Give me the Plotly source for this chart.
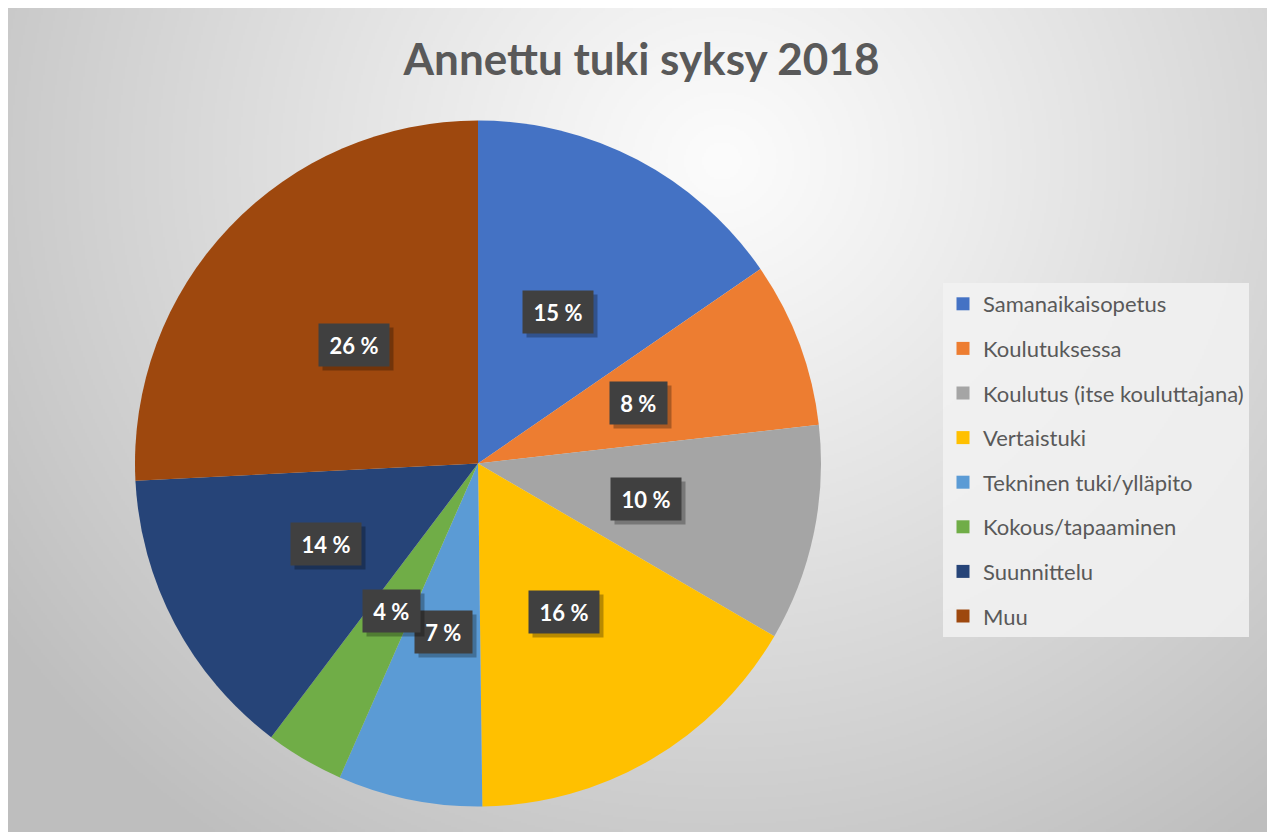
import base64, struct, zlib, math
import numpy as np
import plotly.graph_objects as go

# ---- data ----
labels = ["Samanaikaisopetus", "Koulutuksessa", "Koulutus (itse kouluttajana)",
          "Vertaistuki", "Tekninen tuki/ylläpito", "Kokous/tapaaminen",
          "Suunnittelu", "Muu"]
values = [15.4, 7.8, 10.2, 16.4, 6.8, 3.7, 13.9, 25.8]
colors = ["#4472C4", "#ED7D31", "#A5A5A5", "#FFC000", "#5B9BD5", "#70AD47",
          "#264478", "#9E480E"]
title_text = "Annettu tuki syksy 2018"

# page body adds an 8px margin; figure sized to fill the rest of the window
W, H = 1267, 824

# ---- background gradient image (radial, light centre) ----
def make_png(arr):
    h, w = arr.shape
    raw = np.hstack([np.zeros((h, 1), dtype=np.uint8), arr]).tobytes()
    def chunk(t, d):
        c = struct.pack(">I", len(d)) + t + d
        return c + struct.pack(">I", zlib.crc32(t + d) & 0xffffffff)
    ihdr = struct.pack(">IIBBBBB", w, h, 8, 0, 0, 0, 0)
    return (b"\x89PNG\r\n\x1a\n" + chunk(b"IHDR", ihdr) +
            chunk(b"IDAT", zlib.compress(raw, 9)) + chunk(b"IEND", b""))

sc = 2
gw, gh = W // sc, H // sc
yy, xx = np.mgrid[0:gh, 0:gw]
px = xx * sc
py = yy * sc
d = np.sqrt((px - 712) ** 2 + ((py - 152) * 1.05) ** 2) / 880.0
d = np.clip(d, 0, 1)
g = 252 - (252 - 190) * d ** 1.1
bg_png = make_png(g.astype(np.uint8))
bg_src = "data:image/png;base64," + base64.b64encode(bg_png).decode()

# ---- pie geometry (pixels within the figure) ----
cx_px, cy_px, R = 470, 455.5, 343
dom_x = [(cx_px - R) / W, (cx_px + R) / W]
dom_y = [(H - cy_px - R) / H, (H - cy_px + R) / H]

fig = go.Figure()
fig.add_trace(go.Pie(
    labels=labels, values=values, sort=False, direction="clockwise",
    rotation=0, marker=dict(colors=colors, line=dict(width=0)),
    textinfo="none", showlegend=False, hoverinfo="label+percent",
    domain=dict(x=dom_x, y=dom_y)))

# legend entries
for lab, col in zip(labels, colors):
    fig.add_trace(go.Scatter(
        x=[None], y=[None], mode="markers", name=lab, legendgroup=lab,
        marker=dict(symbol="square", size=13, color=col, line=dict(width=0)),
        showlegend=True))

# data labels
total = sum(values)
cum = 0.0
annotations = []
cxp = (dom_x[0] + dom_x[1]) / 2
cyp = (dom_y[0] + dom_y[1]) / 2
for v in values:
    mid = (cum + v / 2) / total * 2 * math.pi
    cum += v
    ax = cxp + 0.5 * R * math.sin(mid) / W
    ay = cyp + 0.5 * R * math.cos(mid) / H
    txt = f"{round(v / total * 100)} %"
    bw = 13.5 * len(txt)
    # shadow box
    annotations.append(dict(
        x=ax, y=ay, xref="paper", yref="paper", text="&nbsp;",
        showarrow=False, xanchor="center", yanchor="middle",
        width=bw, height=26,
        xshift=4, yshift=-4, bgcolor="rgba(0,0,0,0.28)", borderpad=8,
        font=dict(family="Lato", size=22, color="rgba(0,0,0,0)")))
    annotations.append(dict(
        x=ax, y=ay, xref="paper", yref="paper", text=f"<b>{txt}</b>",
        showarrow=False, xanchor="center", yanchor="middle",
        width=bw, height=26,
        bgcolor="#404040", borderpad=8,
        font=dict(family="Lato", size=22, color="white")))

fig.update_layout(
    width=W, height=H,
    margin=dict(l=0, r=0, t=0, b=0),
    paper_bgcolor="white", plot_bgcolor="rgba(0,0,0,0)",
    xaxis=dict(visible=False), yaxis=dict(visible=False),
    images=[dict(source=bg_src, xref="paper", yref="paper",
                 x=0, y=1, sizex=1, sizey=1,
                 xanchor="left", yanchor="top", sizing="stretch",
                 layer="below")],
    title=dict(text=f"<b>{title_text}</b>", x=0.5, xanchor="center",
               y=1 - 52 / H, yanchor="middle",
               font=dict(family="Lato", size=44, color="#595959")),
    legend=dict(x=935 / W, xanchor="left", y=1 - 275 / H, yanchor="top",
                bgcolor="rgba(242,242,242,0.85)", borderwidth=0,
                font=dict(family="Lato", size=22, color="#595959"),
                tracegroupgap=13, itemsizing="trace"),
    annotations=annotations,
    showlegend=True,
)

fig.write_html("out.html")
